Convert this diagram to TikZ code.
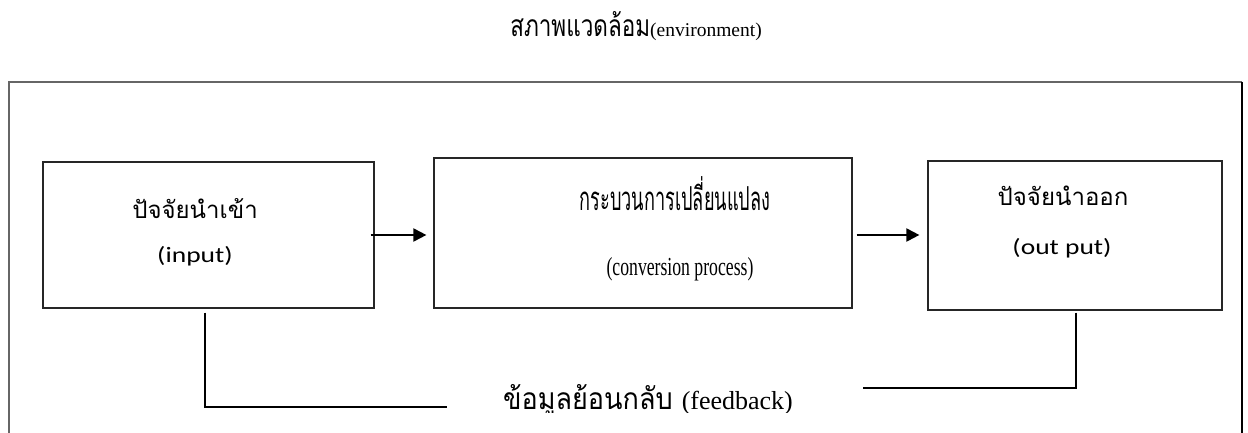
\documentclass[tikz,border=0pt]{standalone}
\usepackage{fontspec}
\setmainfont{Liberation Serif}
\newfontfamily\thaititle[Script=Thai,FakeStretch=0.75]{Loma}
\newfontfamily\thaimid[Script=Thai,FakeStretch=0.55]{Loma}
\newfontfamily\thaifb[Script=Thai,FakeStretch=0.9]{Loma}
\newfontfamily\thaisans[Script=Thai]{Loma}
\newfontfamily\calib[FakeStretch=1.25]{Carlito}
\newfontfamily\sercond[FakeStretch=0.68]{Liberation Serif}
\usetikzlibrary{arrows.meta}
\tikzset{
  boxst/.style={draw=black!85,line width=1.2pt,inner sep=0pt,rectangle},
  arr/.style={line width=2pt,-{Triangle[length=13pt,width=13pt]}},
  fbline/.style={line width=1.6pt},
  txt/.style={anchor=base,inner sep=0pt},
}
\begin{document}
\begin{tikzpicture}[x=1pt,y=-1pt]
\useasboundingbox (0,0) rectangle (1248,433);
% outer frame (environment)
\draw[black!60,line width=1.2pt] (9,460) -- (9,82) -- (1242,82);
\draw[black,line width=1.4pt] (1242,82) -- (1242,460);
% title
\node[txt] (title) at (636,37) {\thaititle\fontsize{30}{34}\selectfont สภาพแวดล้อม\rmfamily\fontsize{19.5}{22}\selectfont(environment)};
% boxes
\node[boxst,minimum width=331pt,minimum height=146pt] (in) at (208.5,235) {};
\node[boxst,minimum width=418pt,minimum height=150pt] (mid) at (643,233) {};
\node[boxst,minimum width=294pt,minimum height=149pt] (out) at (1075,235.5) {};
% box texts
\node[txt] (inT) at (195,218) {\thaisans\fontsize{24}{28}\selectfont ปัจจัยนำเข้า};
\node[txt] (inL) at (195,262) {\calib\fontsize{22}{26}\selectfont (input)};
\node[txt] (midT) at (675,210) {\thaimid\fontsize{33}{37}\selectfont กระบวนการเปลี่ยนแปลง};
\node[txt] (midL) at (680,275) {\sercond\fontsize{26}{30}\selectfont (conversion process)};
\node[txt] (outT) at (1063,205) {\thaisans\fontsize{24}{28}\selectfont ปัจจัยนำออก};
\node[txt] (outL) at (1062,254) {\calib\fontsize{22}{26}\selectfont (out put)};
% arrows
\draw[arr] ([xshift=-4pt]in.east) -- ([xshift=-7pt]in.east -| mid.west);
\draw[arr] ([xshift=4pt]in.east -| mid.east) -- ([xshift=-8pt]in.east -| out.west);
% feedback
\begin{scope}
\clip (0,0) rectangle (1248,412);
\node[txt] (fb) at (648,409) {\thaifb\fontsize{30}{34}\selectfont ข้อมูลย้อนกลับ \rmfamily\fontsize{26}{30}\selectfont(feedback)};
\end{scope}
\coordinate (fbl) at (447,407);
\coordinate (fbr) at (863,388);
\draw[fbline] ([xshift=-3.5pt,yshift=-4pt]in.south) |- (fbl);
\draw[fbline] ([xshift=1pt,yshift=-2pt]out.south) |- (fbr);
\end{tikzpicture}
\end{document}
